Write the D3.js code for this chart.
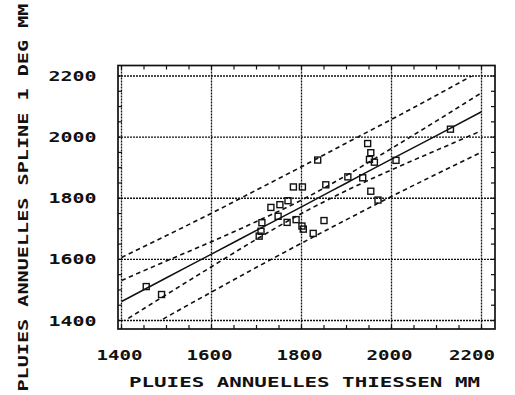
<!DOCTYPE html>
<html><head><meta charset="utf-8">
<script src="https://cdn.jsdelivr.net/npm/d3@7"></script>
<style>body{margin:0;background:#fff}svg{display:block}</style>
</head><body><svg id="c" width="515" height="395"></svg>
<script>
// ---- data ----
const xTickValues=[1400,1600,1800,2000,2200];
const yTickValues=[1400,1600,1800,2000,2200];
const xTickLabels=["1400","1600","1800","2000","2200"];
const yTickLabels=["1400","1600","1800","2000","2200"];
const xTitle="PLUIES ANNUELLES THIESSEN MM";
const yTitle="PLUIES ANNUELLES SPLINE 1 DEG MM";
const obsX=[1455,1489,1706,1710,1712,1732,1748,1752,1770,1768,1782,1788,1802,1801,1804,1826,1836,1850,1854,1903,1936,1947,1954,1951,1962,1954,1970,2010,2131];
const obsY=[1511,1485,1676,1692,1720,1770,1741,1779,1792,1721,1837,1730,1837,1709,1699,1685,1925,1727,1844,1870,1867,1979,1949,1927,1918,1823,1794,1924,2026];
const bandX=[1400,1500,1600,1700,1800,1900,2000,2100,2200];
const fitY=[1462,1540,1617,1695,1772,1850,1928,2005,2083];
const confUpper=[1531,1595,1658,1724,1794,1875,1963,2053,2145];
const confLower=[1393,1485,1576,1666,1750,1825,1893,1957,2021];
const predUpper=[1606,1678,1751,1827,1903,1981,2058,2137,2218];
const predLower=[1326,1411,1493,1574,1653,1730,1806,1879,1951];

// ---- drawing ----
const svg=d3.select("#c");
const x=d3.scaleLinear().domain([1400,2200]).range([121.5,481.5]);
const y=d3.scaleLinear().domain([1400,2200]).range([320.5,76]);
const fx0=118, fx1=495, fy0=65.5, fy1=329;
const ink="#111";
const FONT="'DejaVu Sans Mono', monospace";

// grid
const grid=svg.append("g").attr("stroke",ink).attr("stroke-width",1.3).attr("stroke-dasharray","2,1").attr("fill","none");
xTickValues.forEach(v=>grid.append("line").attr("x1",x(v)).attr("x2",x(v)).attr("y1",fy0).attr("y2",fy1));
yTickValues.forEach(v=>grid.append("line").attr("y1",y(v)).attr("y2",y(v)).attr("x1",fx0).attr("x2",fx1));

// minor ticks (every 50)
const minor=d3.range(1400,2201,50);
const tk=svg.append("g").attr("stroke",ink).attr("stroke-width",1.2);
minor.forEach(v=>{
  tk.append("line").attr("x1",x(v)).attr("x2",x(v)).attr("y1",fy1).attr("y2",fy1-4);
  tk.append("line").attr("x1",x(v)).attr("x2",x(v)).attr("y1",fy0).attr("y2",fy0+4);
  tk.append("line").attr("y1",y(v)).attr("y2",y(v)).attr("x1",fx0).attr("x2",fx0+4);
  tk.append("line").attr("y1",y(v)).attr("y2",y(v)).attr("x1",fx1).attr("x2",fx1-4);
});

// frame
svg.append("rect").attr("x",fx0).attr("y",fy0).attr("width",fx1-fx0).attr("height",fy1-fy0)
  .attr("fill","none").attr("stroke",ink).attr("stroke-width",1.7);

// clip to data domain
svg.append("clipPath").attr("id","cp").append("rect")
  .attr("x",x(1400)).attr("y",y(2200)).attr("width",x(2200)-x(1400)).attr("height",y(1400)-y(2200));
const lines=svg.append("g").attr("clip-path","url(#cp)").attr("fill","none").attr("stroke",ink);
const mk=arr=>d3.line().x((d,i)=>x(bandX[i])).y(d=>y(d)).curve(d3.curveMonotoneX)(arr);
[predUpper,confUpper,confLower,predLower].forEach(a=>{
  lines.append("path").attr("d",mk(a)).attr("stroke-width",1.6).attr("stroke-dasharray","4.5,3.5");
});
lines.append("path").attr("d",mk(fitY)).attr("stroke-width",1.5);

// points
svg.append("g").selectAll("rect").data(obsX).join("rect")
  .attr("x",(d,i)=>x(d)-3).attr("y",(d,i)=>y(obsY[i])-3)
  .attr("width",6).attr("height",6).attr("fill","none").attr("stroke",ink).attr("stroke-width",1.4);

// tick labels
const txt=(g,s,len)=>g.append("text").text(s).attr("font-family",FONT).attr("font-weight","bold")
  .attr("font-size",13.5).attr("fill",ink).attr("text-anchor","middle")
  .attr("textLength",len).attr("lengthAdjust","spacingAndGlyphs");
yTickValues.forEach((v,i)=>txt(svg,yTickLabels[i],48).attr("x",72.5).attr("y",y(v)+5));
xTickValues.forEach((v,i)=>txt(svg,xTickLabels[i],46).attr("x",Math.min(x(v)-2,fx1-23)).attr("y",359.5));
// titles
txt(svg,xTitle,351).attr("x",304.5).attr("y",386.7);
txt(svg,yTitle,388).attr("transform","translate(28.3,197.5) rotate(-90)");
</script></body></html>
